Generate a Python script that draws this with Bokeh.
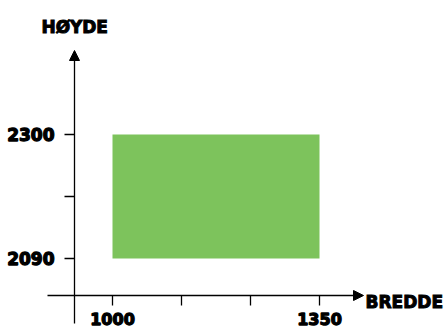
from bokeh.plotting import figure
from bokeh.models import Range1d, LinearAxis, FixedTicker, Arrow, NormalHead, Label
from bokeh.embed import file_html
from bokeh.resources import INLINE

# ---- data ----
bredde = [1000, 1350]          # width (x) extent of the box
hoyde = [2090, 2300]           # height (y) extent of the box
x_major_ticks = [1000, 1350]
x_minor_ticks = [1116.67, 1233.33]
y_major_ticks = [2090, 2300]
y_minor_ticks = [2195]
x_title = "BREDDE"
y_title = "HØYDE"

# ---- layout (canvas pixels) ----
W, H = 446, 328
x0_px, x1_px = 112, 319        # canvas x of 1000 and 1350
y0_px, y1_px = 258, 134        # canvas y (from top) of 2090 and 2300
sx = (x1_px - x0_px) / (bredde[1] - bredde[0])
sy = (y0_px - y1_px) / (hoyde[1] - hoyde[0])
xs = bredde[0] - x0_px / sx
ys = hoyde[0] - (H - y0_px) / sy
x_range = Range1d(xs, xs + W / sx)
y_range = Range1d(ys, ys + H / sy)

def dx(px):
    return xs + px / sx

def dy(px_from_top):
    return ys + (H - px_from_top) / sy

yaxis_x = dx(74)
xaxis_y = dy(295)

p = figure(width=W, height=H, x_range=x_range, y_range=y_range,
           x_axis_type=None, y_axis_type=None, min_border=0,
           toolbar_location=None, output_backend="svg",
           outline_line_color=None, background_fill_color="white",
           border_fill_color="white")

p.quad(left=[bredde[0]], right=[bredde[1]], bottom=[hoyde[0]], top=[hoyde[1]],
       fill_color="#7dc35c", line_color=None)

font = "DejaVu Sans"

xaxis = LinearAxis(fixed_location=xaxis_y,
                   ticker=FixedTicker(ticks=x_major_ticks, minor_ticks=x_minor_ticks))
xaxis.axis_line_color = None
xaxis.major_tick_out = 10
xaxis.major_tick_in = 0
xaxis.minor_tick_out = 10
xaxis.minor_tick_in = 0
xaxis.major_tick_line_width = 1.3
xaxis.minor_tick_line_width = 1.3
xaxis.major_tick_line_color = "black"
xaxis.minor_tick_line_color = "black"
xaxis.major_label_text_font = font
xaxis.major_label_text_font_style = "bold"
xaxis.major_label_text_font_size = "16px"
xaxis.major_label_text_color = "black"
xaxis.major_label_text_outline_color = "black"
xaxis.major_label_standoff = 7
p.add_layout(xaxis, "below")

yaxis = LinearAxis(fixed_location=yaxis_x,
                   ticker=FixedTicker(ticks=y_major_ticks, minor_ticks=y_minor_ticks))
yaxis.axis_line_color = None
yaxis.major_tick_out = 10
yaxis.major_tick_in = 0
yaxis.minor_tick_out = 10
yaxis.minor_tick_in = 0
yaxis.major_tick_line_width = 1.3
yaxis.minor_tick_line_width = 1.3
yaxis.major_tick_line_color = "black"
yaxis.minor_tick_line_color = "black"
yaxis.major_label_text_font = font
yaxis.major_label_text_font_style = "bold"
yaxis.major_label_text_font_size = "17px"
yaxis.major_label_text_color = "black"
yaxis.major_label_text_outline_color = "black"
yaxis.major_label_standoff = 10
yaxis.major_label_orientation = "horizontal"
p.add_layout(yaxis, "left")

# axis lines with arrow heads
p.add_layout(Arrow(x_start=dx(47), y_start=xaxis_y, x_end=dx(363), y_end=xaxis_y,
                   line_width=1.3, line_color="black",
                   end=NormalHead(size=10, fill_color="black", line_color="black", line_width=1)))
p.add_layout(Arrow(x_start=yaxis_x, y_start=dy(323), x_end=yaxis_x, y_end=dy(50),
                   line_width=1.3, line_color="black",
                   end=NormalHead(size=10, fill_color="black", line_color="black", line_width=1)))

p.add_layout(Label(x=41, y=H - 26.7, x_units="screen", y_units="screen", text=y_title,
                   text_font=font, text_font_style="bold", text_font_size="17px",
                   text_baseline="alphabetic", text_color="black",
                   text_outline_color="black"))
p.add_layout(Label(x=365, y=H - 301, x_units="screen", y_units="screen", text=x_title,
                   text_font=font, text_font_style="bold", text_font_size="17px",
                   text_baseline="alphabetic", text_color="black",
                   text_outline_color="black"))

open("out.html", "w").write(file_html(p, INLINE))
